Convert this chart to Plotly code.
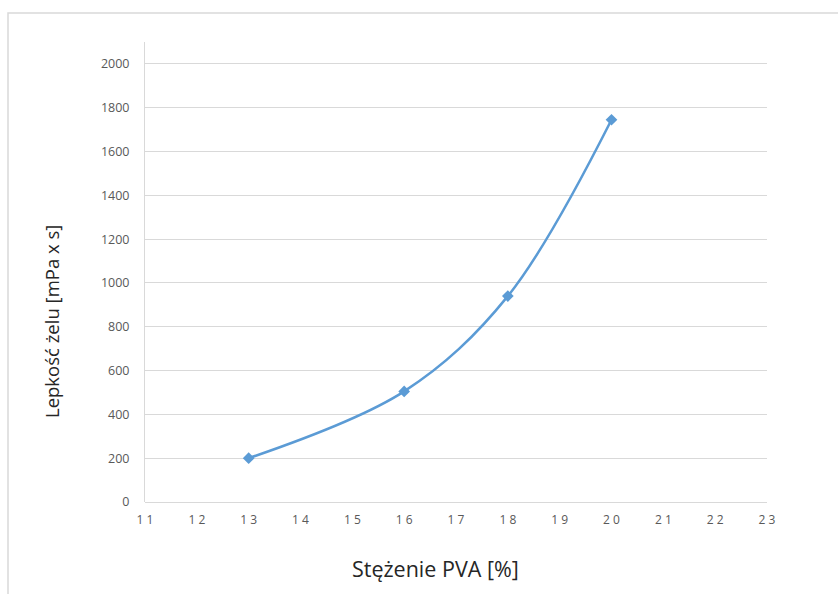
import plotly.graph_objects as go

# PVA concentration [%] and gel viscosity [mPa x s]
stezenie_pva = [13, 16, 18, 20]
lepkosc = [200, 505, 940, 1745]

x_ticks = list(range(11, 24))
y_ticks = list(range(0, 2001, 200))

LINE_COLOR = "#5B9BD5"
GRID_COLOR = "#D9D9D9"
TICK_COLOR = "#595959"
FONT = "'Open Sans', 'Noto Sans', sans-serif"

W, H = 838, 594
ML, MR, MT, MB = 145, 71, 42, 92
PW = W - ML - MR
PH = H - MT - MB

fig = go.Figure()
fig.add_trace(go.Scatter(
    x=stezenie_pva,
    y=lepkosc,
    mode="lines+markers",
    line=dict(color=LINE_COLOR, width=2.5, shape="spline", smoothing=1.0),
    marker=dict(symbol="diamond", size=9, color=LINE_COLOR),
    showlegend=False,
    hoverinfo="x+y",
))


def px_x(p):
    return (p - ML) / PW


def px_y(p):
    return (H - MB - p) / PH


fig.update_layout(
    width=W,
    height=H,
    margin=dict(l=ML, r=MR, t=MT, b=MB),
    paper_bgcolor="white",
    plot_bgcolor="white",
    font=dict(family=FONT, color=TICK_COLOR, size=12),
    xaxis=dict(
        range=[11, 23],
        tickmode="array",
        tickvals=x_ticks,
        ticktext=[" ".join(str(v)) for v in x_ticks],
        showgrid=False,
        zeroline=False,
        showline=False,
        ticks="",
        ticklabelstandoff=9,
        tickfont=dict(size=12, color=TICK_COLOR),
    ),
    yaxis=dict(
        range=[0, 2100],
        tickmode="array",
        tickvals=y_ticks,
        showgrid=True,
        gridcolor=GRID_COLOR,
        gridwidth=1,
        zeroline=True,
        zerolinecolor=GRID_COLOR,
        zerolinewidth=1,
        showline=True,
        linecolor=GRID_COLOR,
        linewidth=1,
        ticks="",
        ticklabelstandoff=12,
        tickfont=dict(size=12.5, color=TICK_COLOR),
    ),
    shapes=[
        # outer chart frame
        dict(
            type="rect", xref="paper", yref="paper",
            x0=px_x(8), x1=px_x(W + 20), y0=px_y(H + 20), y1=px_y(13),
            line=dict(color=GRID_COLOR, width=1.5),
            fillcolor="rgba(0,0,0,0)", layer="below",
        ),
    ],
    annotations=[
        dict(
            text="Stężenie PVA [%]", xref="paper", yref="paper",
            x=px_x(435), y=px_y(568), showarrow=False,
            xanchor="center", yanchor="middle",
            font=dict(family=FONT, size=21.5, color="#262626"),
        ),
        dict(
            text="Lepkość żelu [mPa x s]", xref="paper", yref="paper",
            x=px_x(51), y=px_y(322), showarrow=False, textangle=-90,
            xanchor="center", yanchor="middle",
            font=dict(family=FONT, size=18.5, color="#262626"),
        ),
    ],
)

fig.write_html("out.html")
